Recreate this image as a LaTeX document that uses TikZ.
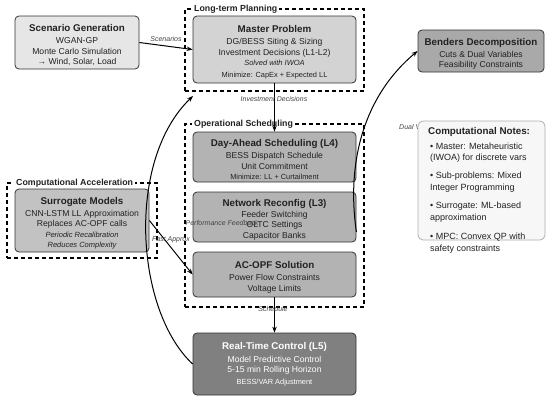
\documentclass[tikz,border=0pt]{standalone}
\usepackage{fontspec}
\setmainfont{Liberation Sans}
\usetikzlibrary{arrows.meta,calc}
\definecolor{txt}{HTML}{222222}
\definecolor{bord}{HTML}{333333}
\definecolor{lblgray}{HTML}{444444}
\definecolor{fscen}{HTML}{E6E6E6}
\definecolor{fmaster}{HTML}{D3D3D3}
\definecolor{fops}{HTML}{B3B3B3}
\definecolor{fsurr}{HTML}{C2C2C2}
\definecolor{fbend}{HTML}{A9A9A9}
\definecolor{frt}{HTML}{808080}
\definecolor{fnote}{HTML}{F7F7F7}
\definecolor{bnote}{HTML}{B0B0B0}
\newcommand{\ttlf}{\fontsize{9.8}{11}\selectfont\bfseries}
\newcommand{\smallf}{\fontsize{7.4}{9}\selectfont}
\newcommand{\itf}{\fontsize{7.5}{9}\selectfont\itshape}
\newcommand{\topstrut}{\rule{0pt}{12.5pt}}
\begin{document}
\begin{tikzpicture}[x=1pt,y=-1pt,
  box/.style={draw=bord, rounded corners=4pt, line width=0.8pt, align=center,
    inner sep=0pt, text=txt, font=\fontsize{8.6}{10.5}\selectfont},
  grp/.style={draw=black, dash pattern=on 4pt off 3pt, line width=1.2pt, inner sep=0pt},
  grplbl/.style={fill=white, inner xsep=2pt, inner ysep=1pt, anchor=west, text=txt,
    font=\fontsize{8.8}{10}\selectfont\bfseries},
  arr/.style={draw=black, line width=1pt, -{Stealth[length=6pt,width=4.5pt]}},
  elbl/.style={text=lblgray, font=\fontsize{7}{8}\selectfont\itshape, inner sep=0pt},
  notel/.style={anchor=west, text=txt, inner sep=0pt, font=\fontsize{9}{10}\selectfont}]
\useasboundingbox (0,0) rectangle (550,400);
\fill[white] (0,0) rectangle (550,400);

% group frames
\node[grp, minimum width=179pt, minimum height=82pt] (ltp) at (274.5,50) {};
\node[grp, minimum width=179pt, minimum height=183pt] (ops) at (274.5,215.5) {};
\node[grp, minimum width=150pt, minimum height=75pt] (acc) at (82,220.5) {};

% boxes
\node[box, fill=fscen, minimum width=124pt, minimum height=53pt] (scen) at (77,42.5)
  {{\topstrut\ttlf Scenario Generation}\\[2pt] WGAN-GP\\ Monte Carlo Simulation\\ \textrightarrow{} Wind, Solar, Load};
\node[box, fill=fmaster, minimum width=163pt, minimum height=67pt] (master) at (274.5,49.5)
  {{\topstrut\ttlf Master Problem}\\[2pt] DG/BESS Siting \& Sizing\\ Investment Decisions (L1-L2)\\ {\itf Solved with IWOA}\\[1pt] {\smallf Minimize: CapEx + Expected LL}};
\node[box, fill=fops, minimum width=163pt, minimum height=50pt] (day) at (274.5,157)
  {{\topstrut\ttlf Day-Ahead Scheduling (L4)}\\[1.5pt] BESS Dispatch Schedule\\ Unit Commitment\\ {\smallf Minimize: LL + Curtailment}};
\node[box, fill=fops, minimum width=163pt, minimum height=50pt] (net) at (274.5,217)
  {{\topstrut\ttlf Network Reconfig (L3)}\\[0.5pt] Feeder Switching\\ OLTC Settings\\ Capacitor Banks};
\node[box, fill=fops, minimum width=163pt, minimum height=45pt] (acopf) at (274.5,274.5)
  {{\topstrut\ttlf AC-OPF Solution}\\[1.5pt] Power Flow Constraints\\ Voltage Limits};
\node[box, fill=frt, text=white, minimum width=163pt, minimum height=62pt] (rt) at (274.5,364)
  {{\ttlf Real-Time Control (L5)}\\[2pt] Model Predictive Control\\ 5-15 min Rolling Horizon\\[1pt] {\smallf BESS/VAR Adjustment}};
\node[box, fill=fsurr, minimum width=134pt, minimum height=63pt] (surr) at (82,220.5)
  {{\topstrut\ttlf Surrogate Models}\\[1.5pt] CNN-LSTM LL Approximation\\ Replaces AC-OPF calls\\ {\itf Periodic Recalibration}\\ {\itf Reduces Complexity}};
\node[box, fill=fbend, minimum width=126pt, minimum height=42pt] (bend) at (481,51)
  {{\topstrut\ttlf Benders Decomposition}\\[1.5pt] Cuts \& Dual Variables\\ Feasibility Constraints};

% group labels
\node[grplbl] (ltpl) at (192,9) {Long-term Planning};
\node[grplbl] (opsl) at (192,124) {Operational Scheduling};
\node[grplbl] (accl) at (14,183) {Computational Acceleration};

% connectors
\coordinate (fbendpt) at (193,96);
\draw[arr] (scen.east) -- (master.west);
\draw[arr] (master.south) -- (day.north);
\draw[arr] (acopf.south) -- (rt.north);
\draw[arr] (surr.east) -- (acopf.west);
\draw[arr] (rt.west) .. controls (135,310) and (126,160) .. (fbendpt);
\draw[arr] ($(net.east)+(0,15)$) .. controls (346,160) and (365,95) .. (bend.west);

% connector labels
\node[elbl] (l1) at (166,39) {Scenarios};
\node[elbl] (l2) at (274,99) {Investment Decisions};
\node[elbl] (l3) at (273,309) {Schedule};
\node[elbl] (l4) at (171,240) {Fast Approx};
\node[elbl] (l5) at (222,223) {Performance Feedback};
\node[elbl, anchor=west] (l6) at (399,127) {Dual Variables};

% notes
\node[draw=bnote, fill=fnote, rounded corners=5pt, line width=0.8pt,
  minimum width=127pt, minimum height=119pt, inner sep=0pt] (notes) at (481.5,180.5) {};
\node[notel, font=\fontsize{9.8}{11}\selectfont\bfseries] (n0) at (428,132) {Computational Notes:};
\node[notel] (n1) at (430,146) {\textbullet{} Master: Metaheuristic};
\node[notel] (n2) at (430,158) {(IWOA) for discrete vars};
\node[notel] (n3) at (430,176) {\textbullet{} Sub-problems: Mixed};
\node[notel] (n4) at (430,188) {Integer Programming};
\node[notel] (n5) at (430,206) {\textbullet{} Surrogate: ML-based};
\node[notel] (n6) at (430,218) {approximation};
\node[notel] (n7) at (430,237) {\textbullet{} MPC: Convex QP with};
\node[notel] (n8) at (430,249) {safety constraints};
\end{tikzpicture}
\end{document}
